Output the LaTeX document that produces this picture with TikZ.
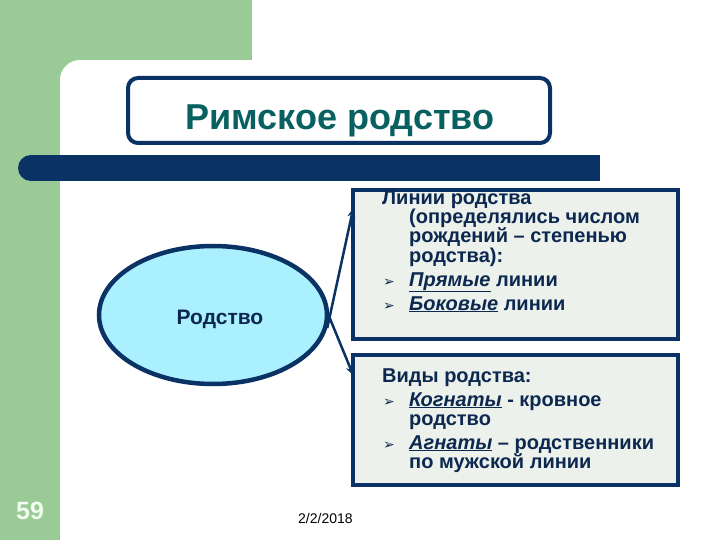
\documentclass[tikz,border=0pt]{standalone}
\usepackage{fontspec}
\setmainfont{Liberation Sans}
\newfontfamily\dejavu{DejaVu Sans}
\usetikzlibrary{shapes.geometric,arrows.meta,calc}
\definecolor{navy}{RGB}{10,50,100}
\definecolor{bggreen}{RGB}{154,202,150}
\definecolor{teal}{RGB}{8,96,96}
\definecolor{boxfill}{RGB}{236,241,235}
\definecolor{elfill}{RGB}{170,240,255}
\definecolor{txt}{RGB}{12,40,80}
\tikzset{
  infobox/.style={draw=navy,line width=3.5pt,fill=boxfill},
  bodytxt/.style={anchor=base west,inner sep=0pt,text=txt,font=\fontsize{20}{22}\selectfont\bfseries},
  bul/.style={anchor=base west,inner sep=0pt,text=txt,font=\dejavu\fontsize{14}{15}\selectfont},
  conn/.style={draw=navy,line width=2.5pt,-{Stealth[length=9pt,width=8pt]}}
}
\newcommand{\uit}[1]{\underline{\textit{#1}}}
\begin{document}
\begin{tikzpicture}[x=1pt,y=-1pt]
\useasboundingbox (0,0) rectangle (720,540);
\fill[white] (0,0) rectangle (720,540);
% green background
\fill[bggreen] (0,0) rectangle (252,60);
\fill[bggreen] (0,0) rectangle (60,540);
\fill[bggreen] (60,60) rectangle (80,80);
\fill[white] (80,80) circle[radius=20];
% title box
\node[draw=navy,line width=4pt,fill=white,rounded corners=10pt,minimum width=422pt,minimum height=65pt,inner sep=0pt] (title) at (339,110.5) {};
\node[anchor=base,inner sep=0pt,text=teal,font=\fontsize{36}{38}\selectfont\bfseries] (titletxt) at (340,130) {Римское родство};
% bar
\fill[navy,rounded corners=13pt] (18,155) rectangle (44,181);
\fill[navy] (30,155) rectangle (600,181);
% ellipse
\node[ellipse,draw=navy,line width=4.5pt,fill=elfill,minimum width=228pt,minimum height=138pt,inner sep=0pt] (el) at (213,315) {};
\node[inner sep=0pt,text=txt,font=\fontsize{21}{22}\selectfont\bfseries] (eltxt) at (220,319) {Родство};
% boxes
\node[infobox,minimum width=325pt,minimum height=149pt,inner sep=0pt] (b1) at (515.5,264.5) {};
\node[infobox,minimum width=325pt,minimum height=130pt,inner sep=0pt] (b2) at (515.5,420) {};
% arrows
\draw[conn] ([shift={(-2,13)}]el.east) -- ([shift={(2,20)}]b1.north west);
\draw[conn] ([shift={(-2,-3)}]el.east) -- ([shift={(2,22)}]b2.north west);
% box 1 text
\node[bodytxt] (l1) at (382,205) {Линии родства};
\node[bodytxt] (l2) at (409,224) {(определялись числом};
\node[bodytxt] (l3) at (409,243) {рождений – степенью};
\node[bodytxt] (l4) at (409,262) {родства):};
\node[bul] (bu1) at (383,286) {➢};
\node[bodytxt] (l5) at (409,286) {\uit{Прямые} линии};
\node[bul] (bu2) at (383,310) {➢};
\node[bodytxt] (l6) at (409,310) {\uit{Боковые} линии};
% box 2 text
\node[bodytxt] (m1) at (382,382) {Виды родства:};
\node[bul] (bu3) at (383,406) {➢};
\node[bodytxt] (m2) at (409,406) {\uit{Когнаты} - кровное};
\node[bodytxt] (m3) at (409,425.5) {родство};
\node[bul] (bu4) at (383,449) {➢};
\node[bodytxt] (m4) at (409,449) {\uit{Агнаты} – родственники};
\node[bodytxt] (m5) at (409,468.5) {по мужской линии};
% footer
\node[anchor=base west,inner sep=0pt,text={rgb,255:red,240;green,255;blue,240},font=\fontsize{25}{26}\selectfont\bfseries] (num) at (16,519) {59};
\node[anchor=base west,inner sep=0pt,text=black,font=\fontsize{14}{15}\selectfont] (date) at (298,523) {2/2/2018};
\end{tikzpicture}
\end{document}
